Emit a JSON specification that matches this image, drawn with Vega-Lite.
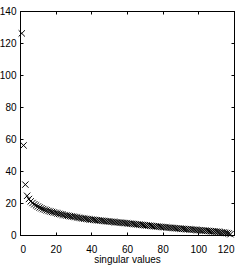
{
  "$schema": "https://vega.github.io/schema/vega-lite/v6.json",
  "width": 214,
  "height": 224,
  "autosize": {"type": "none"},
  "padding": {"left": 20, "top": 11, "right": 12, "bottom": 31},
  "background": "white",
  "config": {
    "view": {"stroke": "black", "strokeWidth": 1},
    "font": "Liberation Sans",
    "axis": {
      "domainColor": "black", "tickColor": "black", "labelColor": "black", "titleColor": "black",
      "labelFont": "Liberation Sans", "titleFont": "Liberation Sans",
      "labelFontSize": 10, "titleFontSize": 10, "titleFontWeight": "normal",
      "grid": false, "tickSize": -3, "domainWidth": 1, "tickWidth": 1
    }
  },
  "data": {"values": [
    {"i":1,"v":126},{"i":2,"v":56},{"i":3,"v":31.5},{"i":4,"v":24.5},{"i":5,"v":22.5},
    {"i":6,"v":21},{"i":7,"v":20},{"i":8,"v":19.2},{"i":9,"v":18.5},{"i":10,"v":17.8},
    {"i":11,"v":17.2},{"i":12,"v":16.7},{"i":13,"v":16.2},{"i":14,"v":15.8},{"i":15,"v":15.4},
    {"i":16,"v":15.0},{"i":17,"v":14.7},{"i":18,"v":14.4},{"i":19,"v":14.1},{"i":20,"v":13.8},
    {"i":21,"v":13.5},{"i":22,"v":13.2},{"i":23,"v":12.95},{"i":24,"v":12.7},{"i":25,"v":12.45},
    {"i":26,"v":12.2},{"i":27,"v":12.0},{"i":28,"v":11.8},{"i":29,"v":11.6},{"i":30,"v":11.4},
    {"i":31,"v":11.2},{"i":32,"v":11.0},{"i":33,"v":10.8},{"i":34,"v":10.6},{"i":35,"v":10.4},
    {"i":36,"v":10.25},{"i":37,"v":10.1},{"i":38,"v":9.95},{"i":39,"v":9.8},{"i":40,"v":9.65},
    {"i":41,"v":9.5},{"i":42,"v":9.38},{"i":43,"v":9.26},{"i":44,"v":9.14},{"i":45,"v":9.02},
    {"i":46,"v":8.9},{"i":47,"v":8.78},{"i":48,"v":8.66},{"i":49,"v":8.54},{"i":50,"v":8.42},
    {"i":51,"v":8.3},{"i":52,"v":8.19},{"i":53,"v":8.08},{"i":54,"v":7.97},{"i":55,"v":7.86},
    {"i":56,"v":7.75},{"i":57,"v":7.64},{"i":58,"v":7.53},{"i":59,"v":7.42},{"i":60,"v":7.31},
    {"i":61,"v":7.2},{"i":62,"v":7.08},{"i":63,"v":6.96},{"i":64,"v":6.84},{"i":65,"v":6.72},
    {"i":66,"v":6.6},{"i":67,"v":6.48},{"i":68,"v":6.36},{"i":69,"v":6.24},{"i":70,"v":6.12},
    {"i":71,"v":6.0},{"i":72,"v":5.88},{"i":73,"v":5.76},{"i":74,"v":5.64},{"i":75,"v":5.52},
    {"i":76,"v":5.4},{"i":77,"v":5.29},{"i":78,"v":5.18},{"i":79,"v":5.07},{"i":80,"v":4.96},
    {"i":81,"v":4.86},{"i":82,"v":4.76},{"i":83,"v":4.66},{"i":84,"v":4.56},{"i":85,"v":4.46},
    {"i":86,"v":4.36},{"i":87,"v":4.26},{"i":88,"v":4.16},{"i":89,"v":4.06},{"i":90,"v":3.96},
    {"i":91,"v":3.87},{"i":92,"v":3.78},{"i":93,"v":3.69},{"i":94,"v":3.6},{"i":95,"v":3.51},
    {"i":96,"v":3.42},{"i":97,"v":3.33},{"i":98,"v":3.24},{"i":99,"v":3.15},{"i":100,"v":3.06},
    {"i":101,"v":2.97},{"i":102,"v":2.88},{"i":103,"v":2.79},{"i":104,"v":2.7},{"i":105,"v":2.6},
    {"i":106,"v":2.5},{"i":107,"v":2.4},{"i":108,"v":2.3},{"i":109,"v":2.2},{"i":110,"v":2.1},
    {"i":111,"v":1.98},{"i":112,"v":1.86},{"i":113,"v":1.72},{"i":114,"v":1.58},{"i":115,"v":1.42},
    {"i":116,"v":1.22},{"i":117,"v":0.95},{"i":118,"v":0.5}
  ]},
  "resolve": {"axis": {"x": "independent", "y": "independent"}},
  "layer": [
    {
      "mark": {"type": "point", "shape": "M-1,-1L1,1M1,-1L-1,1", "filled": false, "stroke": "black", "strokeWidth": 1, "size": 40, "opacity": 1},
      "encoding": {
        "x": {"field": "i", "type": "quantitative", "scale": {"domain": [0, 120], "nice": false, "zero": false},
              "axis": {"orient": "bottom", "values": [0,20,40,60,80,100,120], "title": "singular values", "labelPadding": 12, "titlePadding": 0}},
        "y": {"field": "v", "type": "quantitative", "scale": {"domain": [0, 140], "nice": false},
              "axis": {"orient": "left", "values": [0,20,40,60,80,100,120,140], "title": null, "labelPadding": 7}}
      }
    },
    {
      "mark": {"type": "point", "opacity": 0},
      "encoding": {
        "x": {"field": "i", "type": "quantitative", "axis": {"orient": "top", "values": [0,20,40,60,80,100,120], "labels": false, "title": null}},
        "y": {"field": "v", "type": "quantitative", "axis": {"orient": "right", "values": [0,20,40,60,80,100,120,140], "labels": false, "title": null}}
      }
    }
  ]
}
